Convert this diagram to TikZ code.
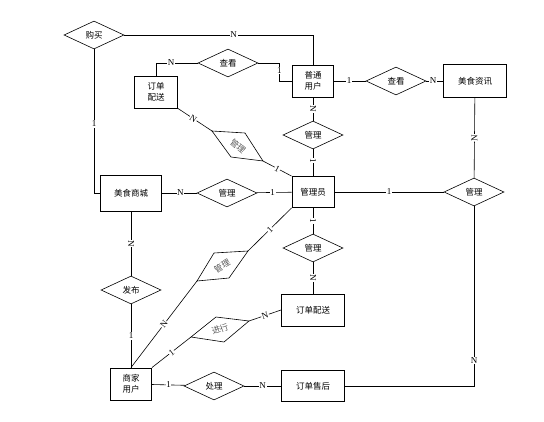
\documentclass[tikz,border=0pt]{standalone}
\usepackage{fontspec}
\setmainfont{Liberation Serif}
\newfontfamily\cjk{Noto Sans CJK SC}
\usetikzlibrary{shapes.geometric}

\tikzset{
  entity/.style={draw, line width=0.9pt, inner sep=0pt, align=center, font=\cjk\fontsize{8.5}{11}\selectfont},
  relation/.style={draw, diamond, line width=0.6pt, minimum width=60pt, minimum height=28pt, inner sep=0pt, font=\cjk\fontsize{8.5}{11}\selectfont},
  card/.style={fill=white, inner sep=0.6pt, font=\fontsize{9}{9}\selectfont},
  link/.style={line width=0.6pt}
}

\begin{document}
\begin{tikzpicture}[x=1pt,y=-1pt]
  \useasboundingbox (0,0) rectangle (544,421);

  \node[relation] (buy) at (94,35) {购买};
  \node[entity, minimum width=43pt, minimum height=32pt] (dispA) at (156,92) {订单\\配送};
  \node[relation] (lookA) at (228,63) {查看};
  \node[entity, minimum width=41pt, minimum height=32pt] (user) at (313,81) {普通\\用户};
  \node[relation] (lookB) at (396,81) {查看};
  \node[entity, minimum width=63pt, minimum height=33pt] (info) at (475,81) {美食资讯};
  \node[relation] (mgU) at (313,135) {管理};
  \node[entity, minimum width=42pt, minimum height=31pt] (admin) at (313,192) {管理员};
  \node[relation] (mgR) at (474,192) {管理};
  \node[entity, minimum width=61pt, minimum height=36pt] (mall) at (131,193) {美食商城};
  \node[relation] (mgM) at (227,193) {管理};
  \node[relation] (mgD) at (313,248) {管理};
  \node[entity, minimum width=63pt, minimum height=32pt] (dispB) at (313,310) {订单配送};
  \node[relation] (pub) at (131,290) {发布};
  \node[entity, minimum width=41pt, minimum height=32pt] (merch) at (131,384) {商家\\用户};
  \node[relation] (handle) at (214,386) {处理};
  \node[entity, minimum width=63pt, minimum height=31pt] (after) at (313,386) {订单售后};

  % slanted relations
  \coordinate (s1l) at (212,131); \coordinate (s1t) at (245,133);
  \coordinate (s1r) at (263,161); \coordinate (s1b) at (231,157);
  \draw[link] (s1l) -- (s1t) -- (s1r) -- (s1b) -- cycle;
  \node[font=\cjk\fontsize{8.5}{11}\selectfont, text=black!65, rotate=-40] (mgS1) at (238,146) {管理};
  \coordinate (s2l) at (197,281); \coordinate (s2t) at (214,253);
  \coordinate (s2r) at (248,251); \coordinate (s2b) at (229,278);
  \draw[link] (s2l) -- (s2t) -- (s2r) -- (s2b) -- cycle;
  \node[font=\cjk\fontsize{8.5}{11}\selectfont, text=black!65, rotate=30] (mgS2) at (222,266) {管理};
  \coordinate (s3l) at (191,337); \coordinate (s3t) at (216,317);
  \coordinate (s3r) at (249,321); \coordinate (s3b) at (224,342);
  \draw[link] (s3l) -- (s3t) -- (s3r) -- (s3b) -- cycle;
  \node[font=\cjk\fontsize{8.5}{11}\selectfont, text=black!65, rotate=20] (doS3) at (220,329) {进行};

  \draw[link] (buy) -| node[card, pos=0.29] {N} (user);
  \draw[link] (buy) |- node[card, pos=0.26] {1} (mall);
  \draw[link] (dispA) |- node[card, pos=0.68] {N} (lookA);
  \draw[link] (lookA.east) -- ++(21,0) |- node[card, pos=0.2] {1} (user);
  \draw[link] (user) -- node[card, pos=0.48] {1} (lookB);
  \draw[link] (lookB) -- node[card, pos=0.4] {N} (info);
  \draw[link] (info) -- node[card, sloped] {N} (mgR);
  \draw[link] (user) -- node[card, sloped] {N} (mgU);
  \draw[link] (mgU) -- node[card, sloped, pos=0.42] {1} (admin);
  \draw[link] (mall) -- node[card, pos=0.53] {N} (mgM);
  \draw[link] (mgM) -- node[card, pos=0.46] {1} (admin);
  \draw[link] (admin) -- node[card] {1} (mgR);
  \draw[link] (mgR) |- node[card, pos=0.43] {N} (after);
  \draw[link] (admin) -- node[card, sloped] {1} (mgD);
  \draw[link] (mgD) -- node[card, sloped] {N} (dispB);
  \draw[link] (mall) -- node[card, sloped] {N} (pub);
  \draw[link] (pub) -- node[card] {1} (merch);
  \draw[link] (merch) -- node[card] {1} (handle);
  \draw[link] (handle) -- node[card] {N} (after);
  \draw[link] (dispA.south east) -- node[card, sloped, pos=0.45] {N} (s1l);
  \draw[link] (s1r) -- node[card, sloped] {1} (admin.north west);
  \draw[link] (merch.north) -- node[card, sloped] {N} (s2l);
  \draw[link] (s2r) -- node[card, sloped] {1} (admin.south west);
  \draw[link] (merch.north east) -- node[card, sloped] {1} (s3l);
  \draw[link] (s3r) -- node[card, sloped] {N} (dispB.west);
\end{tikzpicture}
\end{document}
